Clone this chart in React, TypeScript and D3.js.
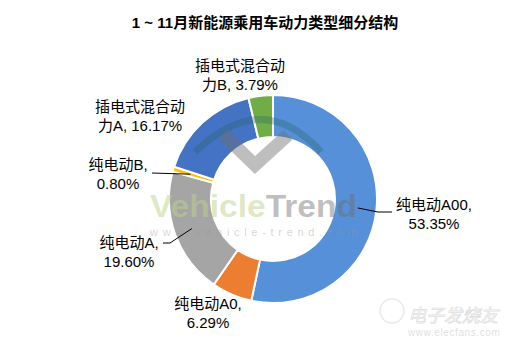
import React from "react";
import * as d3 from "d3";

const categories = ["纯电动A00", "纯电动A0", "纯电动A", "纯电动B", "插电式混合动力A", "插电式混合动力B"];
const values = [53.35, 6.29, 19.6, 0.8, 16.17, 3.79];
const colors = ["#5590d8", "#ed7d31", "#a5a5a5", "#ffc000", "#4472c4", "#70ad47"];
const labelLines = [
  ["纯电动A00,", "53.35%"],
  ["纯电动A0,", "6.29%"],
  ["纯电动A,", "19.60%"],
  ["纯电动B,", "0.80%"],
  ["插电式混合动", "力A, 16.17%"],
  ["插电式混合动", "力B, 3.79%"],
];
const title = "1 ~ 11月新能源乘用车动力类型细分结构";

// label placement relative to the chart centre (layout, not data)
const labelOffsets: [number, number][] = [
  [161, 11],
  [-65, 110],
  [-144, 49],
  [-155, -29],
  [-133, -87],
  [-33, -128],
];
// leader lines relative to centre
const leaders: ({ r: number; pts: [number, number][] } | null)[] = [
  { r: 0.82, pts: [[105, 13], [119, 13]] },
  null,
  { r: 0.83, pts: [[-103, 44], [-110, 44]] },
  { r: 0.83, pts: [[-121, -26]] },
  null,
  null,
];

const W = 514, H = 347;
const cx = 273, cy = 199;
const outerR = 104, innerR = 62;

export default function App() {
  const pie = d3.pie<number>().sort(null).value((d) => d);
  const arcs = pie(values);
  const arc = d3.arc<d3.PieArcDatum<number>>().innerRadius(innerR).outerRadius(outerR);
  const font = "'Liberation Sans', 'Noto Sans CJK SC', sans-serif";

  return (
    <svg width={W} height={H} style={{ position: "fixed", left: 0, top: 0, background: "#fff" }}>
      <rect width={W} height={H} fill="#fff" />
      <text x={265} y={28} textAnchor="middle" fontFamily={font} fontWeight="bold" fontSize={15} fill="#000">
        {title}
      </text>
      <g transform={`translate(${cx},${cy})`}>
        {arcs.map((a, i) => (
          <path key={i} d={arc(a) || ""} fill={colors[i]} stroke="#fff" strokeWidth={2} />
        ))}
        {/* watermark */}
        <path d="M -78 -47 Q -10 -112 48 -47" fill="none" stroke="rgba(40,100,100,0.33)" strokeWidth={7} />
        <polyline points="-50,-65 -18,-34 15,-64" fill="none" stroke="rgba(110,110,110,0.45)" strokeWidth={13} />
        <text x={-123} y={18} fontFamily="'Liberation Sans', Arial, sans-serif" fontWeight="bold" fontSize={32}
          textLength={207} lengthAdjust="spacingAndGlyphs">
          <tspan fill="rgba(190,210,140,0.5)">Vehicle</tspan>
          <tspan fill="rgba(110,110,110,0.45)">Trend</tspan>
        </text>
        <text x={-123} y={37} fontFamily="'Liberation Sans', Arial, sans-serif" fontSize={11}
          fill="rgba(150,150,150,0.4)" textLength={207} lengthAdjust="spacing">
          www.vehicle-trend.com
        </text>
        {leaders.map((l, i) => {
          if (!l) return null;
          const a = arcs[i];
          const mid = (a.startAngle + a.endAngle) / 2;
          const r = outerR * l.r;
          const sx = Math.sin(mid) * r;
          const sy = -Math.cos(mid) * r;
          const pts = [[sx, sy], ...l.pts];
          return (
            <polyline key={i} points={pts.map((p) => p.join(",")).join(" ")} fill="none" stroke="#000" strokeWidth={1} />
          );
        })}
        {labelLines.map((lines, i) => (
          <g key={i}>
            <text x={labelOffsets[i][0]} y={labelOffsets[i][1]} textAnchor="middle"
              fontFamily={font} fontSize={15} fill="#000">{lines[0]}</text>
            <text x={labelOffsets[i][0]} y={labelOffsets[i][1] + 18.5} textAnchor="middle"
              fontFamily={font} fontSize={15} fill="#000">{lines[1]}</text>
          </g>
        ))}
      </g>
      {/* elecfans watermark */}
      <g opacity={0.3}>
        <circle cx={392} cy={311} r={12} fill="none" stroke="#bbb" strokeWidth={1.5} />
        <text x={408} y={322} fontFamily={font} fontSize={18} fontStyle="italic" fill="#fff" stroke="#999" strokeWidth={0.8}>
          电子发烧友
        </text>
        <text x={408} y={336} fontFamily="'Liberation Sans', sans-serif" fontSize={10} fill="#999" letterSpacing={0.6}>
          www.elecfans.com
        </text>
      </g>
    </svg>
  );
}
